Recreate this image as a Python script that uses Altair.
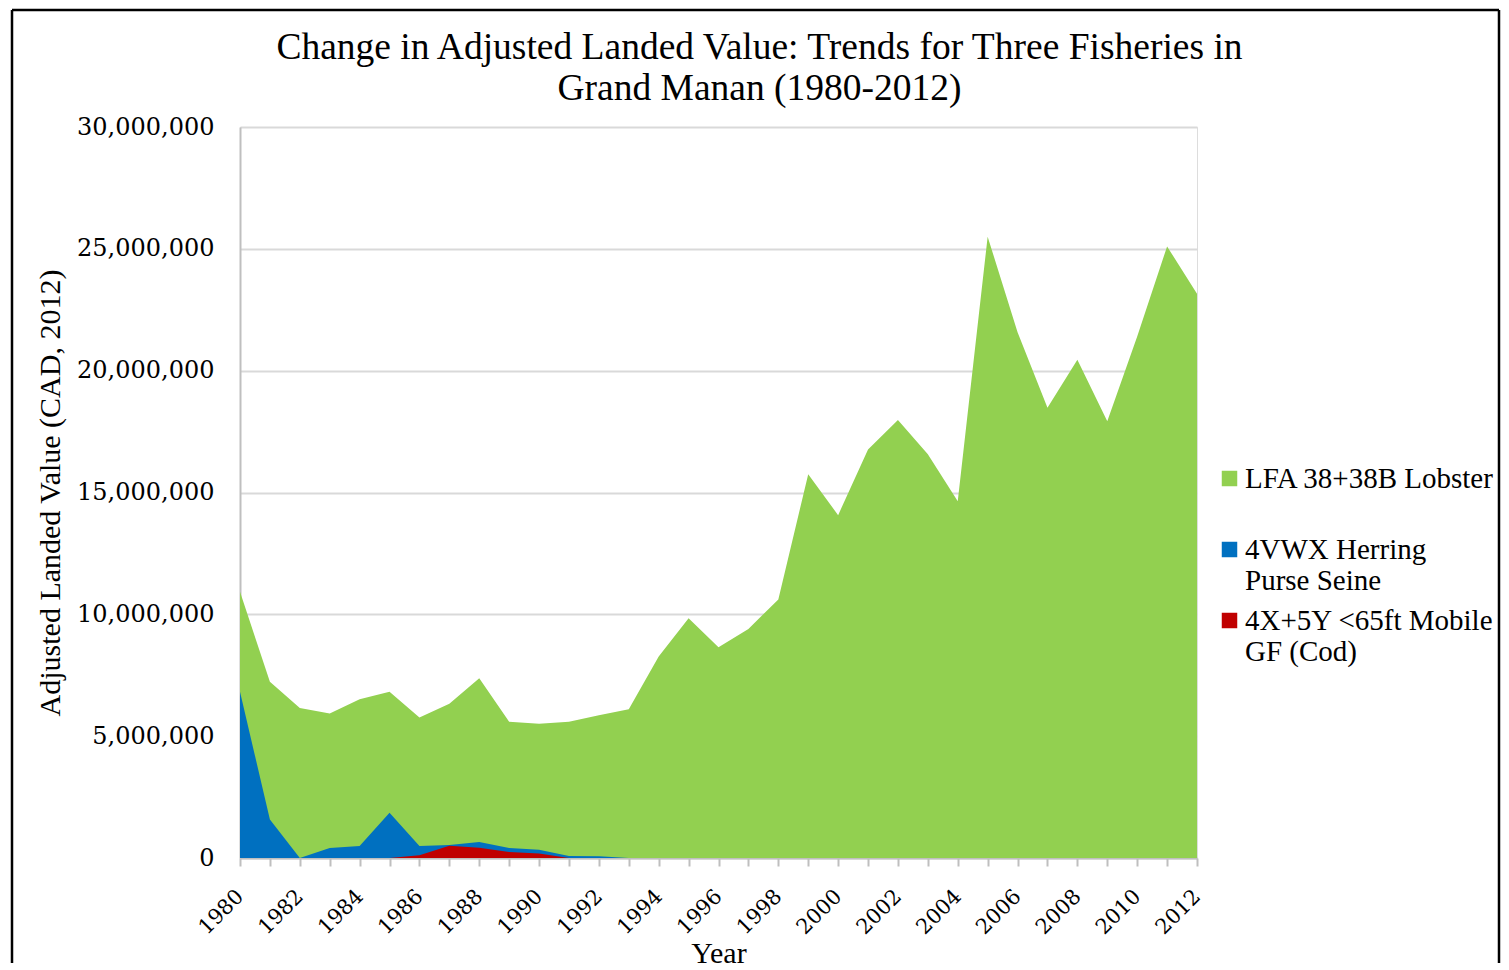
import altair as alt
import pandas as pd

years = list(range(1980, 2013))

# values in millions of CAD (2012)
lobster_m = [10.93, 7.23, 6.16, 5.93, 6.51, 6.82, 5.77, 6.33, 7.38, 5.59,
             5.51, 5.59, 5.86, 6.10, 8.27, 9.84, 8.65, 9.40, 10.61, 15.75,
             14.07, 16.76, 17.98, 16.57, 14.64, 25.50, 21.58, 18.48, 20.45, 17.92,
             21.40, 25.10, 23.16]
herring_m = [6.82, 1.58, 0.0, 0.41, 0.49, 1.86, 0.49, 0.53, 0.66, 0.41,
             0.34, 0.08, 0.07, 0.0, 0.0, 0.0, 0.0, 0.0, 0.0, 0.0,
             0.0, 0.0, 0.0, 0.0, 0.0, 0.0, 0.0, 0.0, 0.0, 0.0,
             0.0, 0.0, 0.0]
cod_m = [0.0, 0.0, 0.0, 0.0, 0.0, 0.0, 0.11, 0.50, 0.42, 0.25,
         0.18, 0.0, 0.0, 0.0, 0.0, 0.0, 0.0, 0.0, 0.0, 0.0,
         0.0, 0.0, 0.0, 0.0, 0.0, 0.0, 0.0, 0.0, 0.0, 0.0,
         0.0, 0.0, 0.0]

series_names = ["LFA 38+38B Lobster", "4VWX Herring Purse Seine", "4X+5Y <65ft Mobile GF (Cod)"]
series_colors = ["#92d050", "#0070c0", "#c00000"]
y_ticks = [0, 5000000, 10000000, 15000000, 20000000, 25000000, 30000000]

rows = []
for name, vals in zip(series_names, [lobster_m, herring_m, cod_m]):
    for yr, v in zip(years, vals):
        rows.append({"Year": yr, "Series": name, "Value": v * 1e6})
df = pd.DataFrame(rows)

SERIF = "Liberation Serif"
NUM = "DejaVu Serif"

label_expr = (
    "datum.label == '4VWX Herring Purse Seine' ? ['4VWX Herring', 'Purse Seine'] : "
    "datum.label == '4X+5Y <65ft Mobile GF (Cod)' ? ['4X+5Y <65ft Mobile', 'GF (Cod)'] : "
    "[datum.label, '']"
)

color = alt.Color(
    "Series:N",
    scale=alt.Scale(domain=series_names, range=series_colors),
    legend=alt.Legend(
        title=None,
        orient="none",
        legendX=975,
        legendY=337,
        symbolType="square",
        symbolSize=240,
        symbolStrokeWidth=0,
        symbolOpacity=1,
        labelFont=SERIF,
        labelFontSize=29,
        labelColor="black",
        labelLimit=0,
        labelOffset=1,
        labelExpr=label_expr,
        rowPadding=10,
        padding=0,
    ),
)

x_enc = alt.X(
    "Year:Q",
    scale=alt.Scale(domain=[1980, 2012], nice=False, zero=False),
    axis=alt.Axis(
        values=years,
        format="d",
        labelExpr="datum.value % 2 == 0 ? datum.label : ''",
        labelOverlap=False,
        labelAngle=-45,
        labelAlign="right",
        labelBaseline="middle",
        labelPadding=27,
        labelFont=NUM,
        labelFontSize=21,
        labelColor="black",
        tickSize=8,
        tickColor="#bfbfbf",
        tickWidth=2,
        domainColor="#bfbfbf",
        domainWidth=2,
        grid=False,
        title="Year",
        titleFont=SERIF,
        titleFontSize=30,
        titleFontWeight="normal",
        titleColor="black",
        titlePadding=1,
    ),
)

y_enc = alt.Y(
    "Value:Q",
    stack=None,
    scale=alt.Scale(domain=[0, 30000000], nice=False),
    axis=alt.Axis(
        values=y_ticks,
        format=",d",
        ticks=False,
        labelPadding=26,
        labelFont=NUM,
        labelFontSize=24,
        labelColor="black",
        domainColor="#bfbfbf",
        domainWidth=2,
        grid=True,
        gridColor="#d9d9d9",
        gridWidth=2,
        title="Adjusted Landed Value (CAD, 2012)",
        titleFont=SERIF,
        titleFontSize=30,
        titleFontWeight="normal",
        titleColor="black",
        titlePadding=11,
    ),
)

base = alt.Chart(df)
layers = []
for name in series_names:
    layers.append(
        base.transform_filter(alt.datum.Series == name)
        .mark_area(opacity=1, interpolate="linear")
        .encode(x=x_enc, y=y_enc, color=color)
    )

frame_data = alt.Data(values=[{"k": 1}])
frame_left = alt.Chart(frame_data).mark_rule(color="black", strokeWidth=2.5).encode(
    x=alt.value(-228), y=alt.value(-117), y2=alt.value(836)
)
frame_top = alt.Chart(frame_data).mark_rule(color="black", strokeWidth=2.5).encode(
    x=alt.value(-228), x2=alt.value(1259), y=alt.value(-117)
)
frame_right = alt.Chart(frame_data).mark_rule(color="black", strokeWidth=2.5).encode(
    x=alt.value(1259), y=alt.value(-117), y2=alt.value(836)
)

chart = (
    alt.layer(*layers, frame_left, frame_top, frame_right)
    .properties(
        width=957,
        height=731,
        padding={"left": 2, "top": 0, "right": 0, "bottom": 0},
        title=alt.TitleParams(
            text=["Change in Adjusted Landed Value: Trends for Three Fisheries in",
                  "Grand Manan (1980-2012)"],
            font=SERIF,
            fontSize=37.5,
            fontWeight="normal",
            color="black",
            anchor="middle",
            lineHeight=41,
            offset=-99,
            dx=41,
        ),
    )
    .configure_view(stroke=None)
    .configure(background="white")
)

chart.save("out.html", embed_options={"renderer": "svg", "actions": False})
